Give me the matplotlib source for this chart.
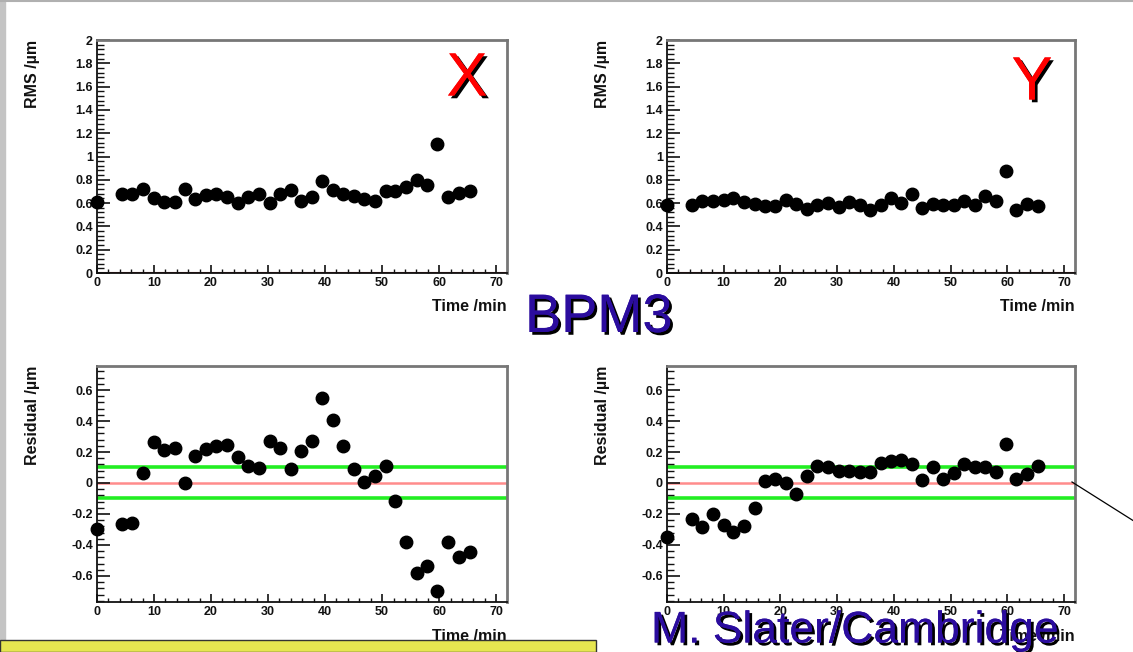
import numpy as np
import matplotlib
matplotlib.use('Agg')
import matplotlib.pyplot as plt
import matplotlib.patheffects as pe
from matplotlib.lines import Line2D
from matplotlib.patches import Rectangle

plt.rcParams['font.family'] = ['Liberation Sans', 'DejaVu Sans']

# time of each measurement /min
t = [0, 4.4, 6.2, 8.1, 10.0, 11.7, 13.6, 15.5, 17.2, 19.1, 20.9, 22.8, 24.7, 26.5,
     28.4, 30.3, 32.1, 34.0, 35.8, 37.7, 39.5, 41.3, 43.2, 45.0, 46.8, 48.7, 50.6,
     52.3, 54.2, 56.1, 57.9, 59.7, 61.5, 63.4, 65.4]

rms_x = [0.61, 0.68, 0.68, 0.725, 0.64, 0.61, 0.61, 0.725, 0.635, 0.67, 0.68, 0.655,
         0.605, 0.655, 0.675, 0.60, 0.68, 0.715, 0.615, 0.655, 0.79, 0.715, 0.68,
         0.665, 0.635, 0.62, 0.705, 0.705, 0.74, 0.795, 0.755, 1.11, 0.65, 0.685, 0.705]

rms_y = [0.587, 0.587, 0.616, 0.62, 0.625, 0.64, 0.61, 0.596, 0.576, 0.573, 0.63, 0.596,
         0.553, 0.58, 0.605, 0.567, 0.61, 0.58, 0.544, 0.58, 0.64, 0.605, 0.676, 0.56,
         0.59, 0.58, 0.58, 0.62, 0.58, 0.66, 0.62, 0.874, 0.544, 0.596, 0.576]

res_x = [-0.30, -0.263, -0.255, 0.062, 0.263, 0.21, 0.227, -0.002, 0.174, 0.217, 0.238,
         0.242, 0.17, 0.11, 0.098, 0.274, 0.227, 0.093, 0.204, 0.274, 0.546, 0.408,
         0.238, 0.093, 0.008, 0.047, 0.11, -0.113, -0.384, -0.584, -0.533, -0.697,
         -0.384, -0.478, -0.446]

res_y = [-0.346, -0.234, -0.285, -0.198, -0.272, -0.314, -0.276, -0.159, 0.015, 0.025,
         0.0, -0.07, 0.047, 0.11, 0.106, 0.079, 0.079, 0.072, 0.068, 0.127, 0.142, 0.149,
         0.121, 0.019, 0.104, 0.025, 0.064, 0.121, 0.10, 0.106, 0.068, 0.253, 0.025,
         0.057, 0.11]

W, H = 1133, 652
fig = plt.figure(figsize=(W / 100, H / 100), dpi=100)
fig.patch.set_facecolor('white')


def px_axes(l, r, top, bot):
    return fig.add_axes([l / W, 1 - bot / H, (r - l) / W, (bot - top) / H])


def style(ax, ylab, yticks, ylim, minor_y):
    ax.set_xlim(0, 71.9)
    ax.set_ylim(*ylim)
    ax.set_xticks(np.arange(0, 71, 10))
    ax.set_xticks(np.arange(0, 72, 2), minor=True)
    ax.set_yticks(yticks)
    ax.set_yticks(minor_y, minor=True)
    ax.set_yticklabels(['%g' % v for v in yticks])
    ax.tick_params(axis='both', which='both', direction='in', top=False, right=False,
                   labelsize=9, colors='#111111')
    ax.tick_params(axis='y', which='major', length=9, width=1.2, pad=3)
    ax.tick_params(axis='y', which='minor', length=5, width=1.0)
    ax.tick_params(axis='x', which='major', length=5.5, width=1.2, pad=3)
    ax.tick_params(axis='x', which='minor', length=3, width=1.0)
    for lab in ax.get_xticklabels() + ax.get_yticklabels():
        lab.set_fontweight('bold')
    for s in ['left', 'bottom']:
        ax.spines[s].set_linewidth(1.3)
        ax.spines[s].set_color('#111111')
    for s in ['top', 'right']:
        ax.spines[s].set_linewidth(2.0)
        ax.spines[s].set_color('#777777')
    ax.text(-0.157, 1.0, ylab, rotation=90, ha='center', va='top', fontsize=11.5,
            fontweight='bold', color='#111111', transform=ax.transAxes)
    ax.text(1.0, -0.145, 'Time /min', ha='right', va='center', fontsize=11.5,
            fontweight='bold', color='#111111', transform=ax.transAxes)


rms_ticks = np.round(np.arange(0, 2.01, 0.2), 2)
rms_minor = np.arange(0, 2.001, 0.04)
res_ticks = np.round(np.arange(-0.6, 0.61, 0.2), 2)
res_minor = np.arange(-0.76, 0.76, 0.04)

ax1 = px_axes(97, 507, 40, 273)
ax2 = px_axes(667, 1075, 40, 273)
ax3 = px_axes(97, 507, 366, 602)
ax4 = px_axes(667, 1075, 366, 602)

for ax, vals in [(ax1, rms_x), (ax2, rms_y)]:
    ax.axhline(0, color='#8b1a1a', lw=1.5, zorder=1)
    ax.plot(t, vals, 'o', color='black', ms=9, clip_on=False, zorder=3)
    style(ax, 'RMS /µm', rms_ticks, (0, 2), rms_minor)

for ax, vals in [(ax3, res_x), (ax4, res_y)]:
    ax.axhline(0, color='#ff8c8c', lw=1.8, zorder=1)
    ax.axhline(0.1, color='#22ee22', lw=2.6, zorder=1)
    ax.axhline(-0.1, color='#22ee22', lw=2.6, zorder=1)
    ax.plot(t, vals, 'o', color='black', ms=9, clip_on=False, zorder=3)
    style(ax, 'Residual /µm', res_ticks, (-0.768, 0.755), res_minor)

shadow = [pe.withSimplePatchShadow(offset=(2, -2), shadow_rgbFace='black', alpha=1.0), pe.Normal()]
fig.text(467 / W, 1 - 80 / H, 'X', color='#ff0000', fontsize=44, ha='center', va='center',
         path_effects=shadow)
fig.text(1032 / W, 1 - 84 / H, 'Y', color='#ff0000', fontsize=44, ha='center', va='center',
         path_effects=shadow)
fig.text(599 / W, 1 - 318 / H, 'BPM3', color='#2b0c9e', fontsize=39, ha='center', va='center',
         path_effects=shadow)

# gray slide edges and yellow box
fig.add_artist(Rectangle((0, 0), 5 / W, 1, transform=fig.transFigure, color='#c4c4c4', zorder=0))
fig.add_artist(Line2D([0, 1], [1 - 0.5 / H, 1 - 0.5 / H], transform=fig.transFigure,
                      color='#b0b0b0', lw=1.5))
fig.add_artist(Rectangle((0, 0), 596 / W, 12 / H, transform=fig.transFigure,
                         facecolor='#e6e650', edgecolor='#333333', lw=1.0, zorder=5))
fig.add_artist(Line2D([1072 / W, 1.0], [1 - 482 / H, 1 - 520.5 / H], transform=fig.transFigure,
                      color='black', lw=0.9))

fig.text(855 / W, 1 - 631 / H, 'M. Slater/Cambridge', color='#2b0c9e', fontsize=32,
         ha='center', va='center', path_effects=shadow, zorder=10)

fig.savefig('out.png', dpi=100)
